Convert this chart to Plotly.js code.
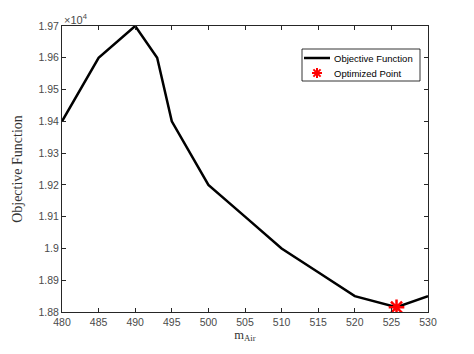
<!DOCTYPE html>
<html>
<head>
<meta charset="utf-8">
<script src="https://cdn.plot.ly/plotly-3.0.1.min.js"></script>
<style>html,body{margin:0;padding:0;background:#fff;}#chart{width:474px;height:354px;}</style>
</head>
<body>
<div id="chart"></div>
<script>
// Objective function curve (x = m_Air, y = objective value)
const mAir = [480, 485, 490, 493, 495, 500, 505, 510, 515, 520, 525.7, 530];
const objective = [19400, 19600, 19700, 19600, 19400, 19200, 19100, 19000, 18925, 18850, 18815, 18850];
// Optimized point
const optX = [525.7];
const optY = [18815];
// Tick labels
const xTicks = [480, 485, 490, 495, 500, 505, 510, 515, 520, 525, 530];
const yTickVals = [18800, 18900, 19000, 19100, 19200, 19300, 19400, 19500, 19600, 19700];
const yTickText = ['1.88', '1.89', '1.9', '1.91', '1.92', '1.93', '1.94', '1.95', '1.96', '1.97'];
const legendNames = ['Objective Function', 'Optimized Point'];

const axisColor = '#262626';
const tickFont = {family: 'Liberation Sans, Arial, sans-serif', size: 10.5, color: '#4a4a4a'};

const M = {l: 62, r: 46, t: 26, b: 42};
const W = 474, H = 354;
const pw = W - M.l - M.r, ph = H - M.t - M.b;
const px = X => (X - M.l) / pw;
const py = Y => 1 - (Y - M.t) / ph;

const traces = [
  {x: mAir, y: objective, mode: 'lines', name: legendNames[0],
   line: {color: '#000', width: 2.5}},
  {x: optX, y: optY, mode: 'markers', name: legendNames[1],
   marker: {symbol: 'asterisk', size: 13, color: '#ff0000', line: {color: '#ff0000', width: 2.5}}}
];

// Custom compact legend (MATLAB style)
const shapes = [
  {type: 'rect', xref: 'paper', yref: 'paper', x0: px(302), x1: px(420), y0: py(49), y1: py(81),
   line: {color: '#000', width: 0.8}, fillcolor: '#fff', layer: 'above'},
  {type: 'line', xref: 'paper', yref: 'paper', x0: px(304), x1: px(330), y0: py(58), y1: py(58),
   line: {color: '#000', width: 2.5}, layer: 'above'}
];
const cx = 317, cy = 73, r = 5;
[[r, 0], [0, r], [r * 0.72, r * 0.72], [r * 0.72, -r * 0.72]].forEach(([dx, dy]) => {
  shapes.push({type: 'line', xref: 'paper', yref: 'paper', x0: px(cx - dx), x1: px(cx + dx),
    y0: py(cy - dy), y1: py(cy + dy), line: {color: '#ff0000', width: 2}, layer: 'above'});
});

const legFont = {family: 'Liberation Sans, Arial, sans-serif', size: 9.5, color: '#000'};

const layout = {
  width: W, height: H,
  margin: M,
  paper_bgcolor: '#fff', plot_bgcolor: '#fff',
  showlegend: false,
  shapes: shapes,
  xaxis: {range: [480, 530], tickvals: xTicks, ticks: 'inside', ticklen: 4, tickcolor: axisColor,
    showline: true, linecolor: axisColor, linewidth: 1, mirror: 'ticks', showgrid: false, zeroline: false,
    tickfont: tickFont,
    title: {text: 'm<sub>Air</sub>', font: {family: 'Liberation Serif, Times New Roman, serif', size: 12.5, color: '#333'}, standoff: 3}},
  yaxis: {range: [18800, 19700], tickvals: yTickVals, ticktext: yTickText, ticks: 'inside', ticklen: 4, tickcolor: axisColor,
    showline: true, linecolor: axisColor, linewidth: 1, mirror: 'ticks', showgrid: false, zeroline: false,
    tickfont: tickFont,
    title: {text: 'Objective Function', font: {family: 'Liberation Serif, Times New Roman, serif', size: 14, color: '#333'}, standoff: 12}},
  annotations: [
    {xref: 'paper', yref: 'paper', x: 0, y: 1, xanchor: 'left', yanchor: 'bottom',
     text: '×10<sup>4</sup>', showarrow: false, yshift: -2,
     font: {family: 'Liberation Sans, Arial, sans-serif', size: 11, color: '#4a4a4a'}},
    {xref: 'paper', yref: 'paper', x: px(332), y: py(58), xanchor: 'left', yanchor: 'middle',
     text: legendNames[0], showarrow: false, font: legFont},
    {xref: 'paper', yref: 'paper', x: px(332), y: py(73), xanchor: 'left', yanchor: 'middle',
     text: legendNames[1], showarrow: false, font: legFont}
  ]
};

Plotly.newPlot('chart', traces, layout, {displayModeBar: false, staticPlot: true});
</script>
</body>
</html>
